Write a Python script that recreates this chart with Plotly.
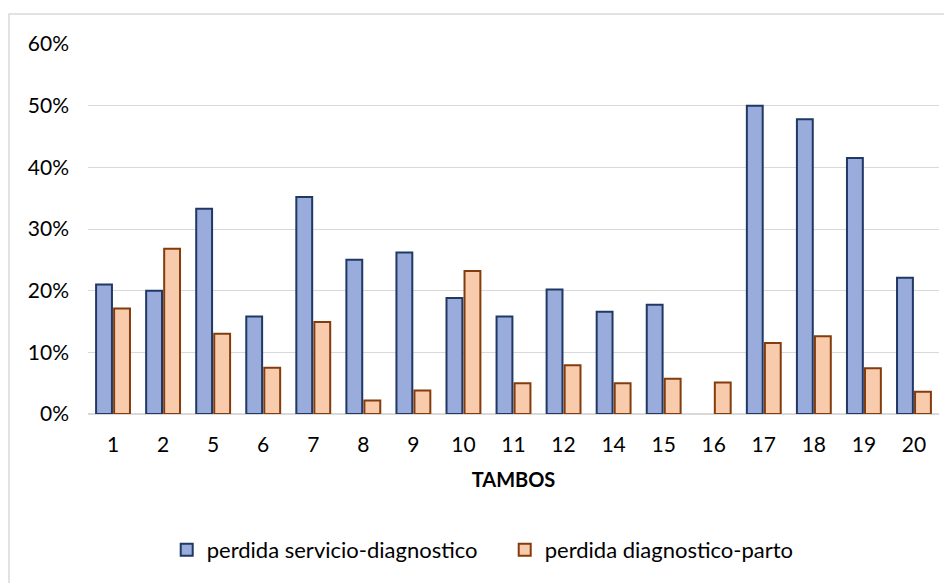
import plotly.graph_objects as go

tambos = ["1", "2", "5", "6", "7", "8", "9", "10", "11", "12", "14", "15", "16", "17", "18", "19", "20"]
servicio_diagnostico = [0.210, 0.200, 0.333, 0.158, 0.352, 0.250, 0.262, 0.188, 0.158, 0.202, 0.166, 0.177, None, 0.500, 0.478, 0.415, 0.221]
diagnostico_parto = [0.171, 0.268, 0.130, 0.075, 0.149, 0.022, 0.038, 0.232, 0.050, 0.079, 0.050, 0.057, 0.051, 0.115, 0.126, 0.074, 0.036]
y_ticks = [0, 0.1, 0.2, 0.3, 0.4, 0.5, 0.6]

FONT = "Lato, 'Open Sans', sans-serif"

# page body has an 8px margin, so the figure is drawn at (8, 8)
W, H = 944, 575
ML, MR, MT, MB = 80, 13, 36, 169
PW, PH = W - ML - MR, H - MT - MB

fig = go.Figure()
fig.add_trace(go.Bar(
    x=tambos, y=servicio_diagnostico, name="perdida servicio-diagnostico",
    marker=dict(color="#9AACDC", line=dict(color="#1F3864", width=2)),
))
fig.add_trace(go.Bar(
    x=tambos, y=diagnostico_parto, name="perdida diagnostico-parto",
    marker=dict(color="#F8CBAD", line=dict(color="#843C0C", width=2)),
))

fig.update_layout(
    width=W, height=H,
    paper_bgcolor="white", plot_bgcolor="white",
    margin=dict(l=ML, r=MR, t=MT, b=MB, autoexpand=False),
    barmode="group", bargap=0.28, bargroupgap=0.12,
    font=dict(family=FONT, size=21, color="#000000"),
    showlegend=True,
    legend=dict(orientation="h", x=0.0925, xanchor="left", y=-136 / PH, yanchor="middle",
                font=dict(size=22), itemwidth=30, entrywidth=293, traceorder="normal"),
    xaxis=dict(
        title=dict(text="<b>TAMBOS</b>", font=dict(size=20), standoff=17),
        tickfont=dict(size=21), showgrid=False, ticks="",
        showline=True, linecolor="#D9D9D9", linewidth=1,
        ticklabelstandoff=12,
    ),
    yaxis=dict(
        range=[0, 0.6], tickvals=y_ticks, tickformat=".0%",
        tickfont=dict(size=21), gridcolor="#D9D9D9", gridwidth=1,
        zeroline=True, zerolinecolor="#D9D9D9", showline=False, ticks="",
        ticklabelstandoff=18,
    ),
    shapes=[dict(type="rect", xref="paper", yref="paper",
                 x0=-(ML - 1) / PW, x1=1 + (MR + 20) / PW,
                 y0=-(MB + 20) / PH, y1=1 + (MT - 6) / PH,
                 line=dict(color="#D9D9D9", width=1.5))],
)

fig.write_html("out.html")
